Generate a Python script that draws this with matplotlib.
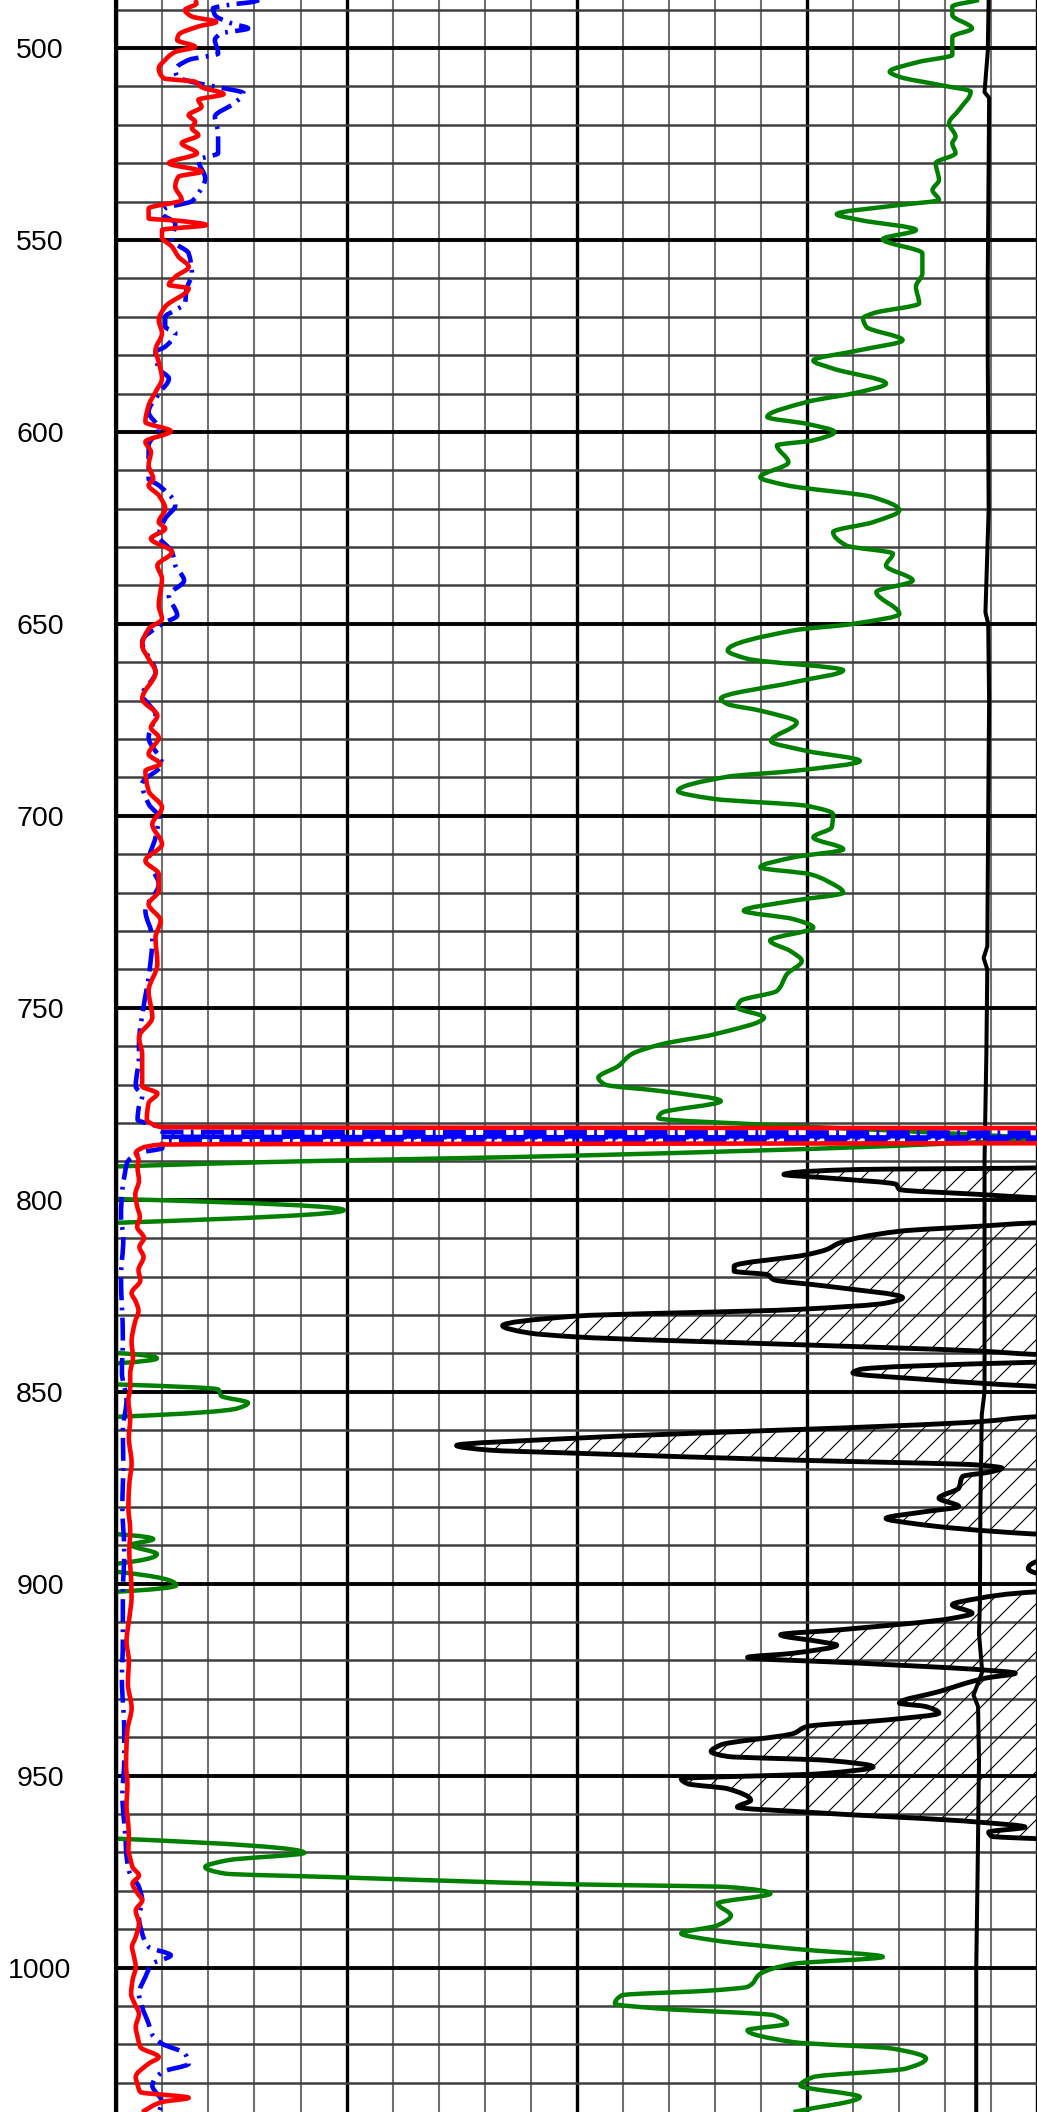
import numpy as np
import matplotlib.pyplot as plt
from matplotlib.path import Path
from matplotlib.patches import PathPatch

plt.rcParams['font.family'] = ['Liberation Sans', 'DejaVu Sans']

DPI = 72
PT = 100 / 72   # sizes below were tuned for 100 dpi
plt.rcParams['hatch.linewidth'] = 0.8 * PT

# depth window and labels
depth_top, depth_bottom = 487.5, 1037.6
depth_labels = [500, 550, 600, 650, 700, 750, 800, 850, 900, 950, 1000]

# curve values are in chart divisions: track 1 = 0..10, track 2 = 10..20
# red curve (track 1)
red_depth = [487.5, 488.4, 490.1, 491.8, 493.2, 494.4, 496.6, 497.9, 499.7, 501.0, 503.1, 505.3, 507.9, 508.8,
             510.2, 512.0, 513.5, 515.3, 517.5, 519.2, 520.9, 522.7, 524.8, 527.4, 530.0, 532.2, 533.5, 536.1,
             539.6, 541.8, 544.4, 545.0, 546.1, 547.4, 549.3, 551.8, 554.4, 557.0, 559.6, 561.7, 562.6, 567.4,
             570.9, 574.3, 578.7,
             581.8, 586.1, 589.6, 593.1, 597.4, 599.8, 602.6, 605.2, 608.7, 612.2, 613.9, 616.5, 620.0, 623.5,
             625.2, 627.8, 631.3, 634.8, 638.2, 645.2, 648.7, 651.3, 655.6, 659.1, 662.6, 669.5,
             673.9, 677.0, 679.6, 683.9, 686.5, 688.3, 693.5, 697.8, 702.2, 707.4, 711.7, 715.2, 719.5, 723.0,
             727.3, 731.7, 738.6, 745.6, 752.5, 757.7, 762.1,
             770.4, 772.3, 774.8, 779.1, 780.4, 781.1, 781.6, 784.9, 785.6, 786.5, 787.8, 789.4, 791.7, 795.0,
             798.7, 801.7, 804.5, 807.0, 810.0, 812.3, 814.9, 818.3, 821.0, 824.3, 826.5, 828.9, 832.0, 837.1,
             841.0, 845.2, 849.0, 852.2, 857.0, 862.0, 868.5, 874.0, 880.1, 886.0, 892.0, 897.0, 903.3, 909.0,
             915.0, 920.0, 926.0, 932.4, 938.0, 942.0, 947.5, 952.0, 958.0, 963.0, 966.0, 969.4, 971.5, 973.8,
             976.0, 978.1, 980.5, 982.5, 985.1, 988.5, 992.0, 994.6, 997.0, 999.8, 1003.3, 1006.8, 1009.5,
             1012.0, 1015.5, 1018.0, 1020.7, 1023.3, 1025.0, 1028.5, 1030.5, 1032.4, 1033.9, 1035.0, 1037.6]
red_value = [1.71, 1.74, 1.49, 1.64, 2.17, 1.78, 1.35, 1.32, 1.71, 1.28, 1.06, 0.92, 1.03, 1.71,
             1.85, 2.33, 1.78, 1.85, 1.57, 1.71, 1.64, 1.78, 1.42, 1.75, 1.14, 1.85, 1.35, 1.28,
             1.42, 0.70, 0.70, 1.35, 1.95, 0.99, 0.99, 1.21, 1.35, 1.57, 1.28, 1.14, 1.57, 1.06,
             0.92, 0.99, 0.85,
             0.92, 0.99, 0.85, 0.70, 0.63, 1.18, 0.63, 0.75, 0.70, 0.80, 0.70, 0.92, 1.06, 0.92,
             1.06, 0.75, 1.21, 0.89, 0.99, 0.92, 0.99, 0.70, 0.56, 0.70, 0.85, 0.56,
             0.89, 0.75, 0.92, 0.70, 0.95, 0.63, 0.70, 0.99, 0.78, 0.99, 0.63, 0.92, 0.92, 0.70,
             0.96, 0.85, 0.89, 0.70, 0.78, 0.49, 0.56,
             0.56, 0.89, 0.70, 0.66, 0.80, 1.00, 45.0, 45.0, 1.00, 0.56, 0.42, 0.48, 0.46, 0.49,
             0.41, 0.45, 0.51, 0.45, 0.60, 0.50, 0.59, 0.48, 0.52, 0.33, 0.42, 0.48, 0.40, 0.33,
             0.36, 0.30, 0.30, 0.26, 0.30, 0.27, 0.33, 0.28, 0.26, 0.30, 0.28, 0.31, 0.33, 0.28,
             0.22, 0.27, 0.25, 0.33, 0.24, 0.22, 0.21, 0.24, 0.22, 0.26, 0.27, 0.26, 0.30, 0.35,
             0.49, 0.35, 0.45, 0.56, 0.42, 0.49, 0.42, 0.34, 0.38, 0.42, 0.35, 0.32, 0.40,
             0.49, 0.42, 0.46, 0.52, 0.92, 0.70, 0.42, 0.46, 0.52, 1.57, 0.99, 0.56]

# blue dash-dot curve (track 1)
blue_depth = [487.5, 487.9, 488.8, 489.7, 491.4, 493.6, 494.9, 496.2, 497.9, 501.4, 503.1, 505.7, 507.5, 509.2,
              510.2, 511.8, 514.4, 517.9, 522.2, 525.7, 527.4, 529.2, 534.0, 537.9, 539.9, 541.8, 543.1, 545.7,
              550.0, 553.5, 558.7, 563.0, 566.5, 568.3, 570.0, 572.6, 574.3, 577.8,
              579.2, 583.5, 586.1, 590.1, 594.8, 599.2, 603.5, 612.2, 613.9, 619.1, 622.6, 627.0, 631.3, 634.8,
              638.7, 642.6, 647.8, 650.0, 654.7, 662.6, 668.6,
              670.9, 673.5, 679.6, 686.5, 691.7, 696.9, 700.4, 705.6, 711.7, 717.8, 724.7, 731.7, 742.1, 749.0,
              759.5,
              762.6, 770.4, 773.0, 775.6, 779.1, 780.8, 782.3, 782.7, 783.2, 783.6, 784.0, 784.3, 784.7, 786.5,
              787.8, 790.4, 792.8, 797.3, 804.0, 810.3, 820.0, 835.9, 845.0, 852.2, 860.0, 868.5, 880.0, 891.7,
              903.0, 915.0, 925.0, 938.2, 946.0, 955.0, 966.8, 969.4, 974.7, 979.0, 982.5, 986.8, 991.1, 994.6,
              996.8, 999.0, 1002.4, 1006.8, 1010.3, 1014.6, 1017.5, 1019.8, 1022.4, 1025.0, 1027.2, 1030.7,
              1035.0, 1037.6]
blue_value = [3.10, 3.00, 2.43, 2.10, 2.14, 2.50, 2.86, 2.28, 2.14, 2.21, 1.57, 1.28, 1.32, 1.78,
              2.21, 2.76, 2.56, 2.14, 2.21, 2.21, 2.21, 1.78, 1.93, 1.78, 1.64, 1.06, 0.99, 1.28,
              1.21, 1.57, 1.64, 1.52, 1.49, 1.28, 1.06, 1.06, 1.28, 1.06,
              0.85, 0.92, 1.14, 0.92, 0.70, 0.92, 0.70, 0.70, 0.92, 1.28, 1.06, 0.92, 1.21, 1.28,
              1.47, 1.14, 1.32, 0.99, 0.56, 0.85, 0.56,
              0.70, 0.85, 0.70, 0.99, 0.56, 0.70, 0.92, 0.85, 0.70, 0.92, 0.63, 0.78, 0.70, 0.60,
              0.49,
              0.49, 0.42, 0.56, 0.49, 0.46, 0.85, 1.00, 45.0, 45.0, 1.00, 45.0, 45.0, 1.00, 1.00,
              0.49, 0.23, 0.19, 0.13, 0.10, 0.15, 0.10, 0.14, 0.12, 0.22, 0.14, 0.15, 0.13, 0.17,
              0.14, 0.14, 0.12, 0.17, 0.17, 0.13, 0.20, 0.21, 0.27, 0.49, 0.56, 0.49, 0.56, 0.70,
              1.18, 0.78, 0.63, 0.49, 0.56, 0.70, 0.78, 0.99, 1.49, 1.57, 0.99, 0.78,
              0.99, 0.92]

# green curve (spans both tracks; below 0 runs off the left edge)
green_depth = [487.5, 489.2, 491.4, 494.9, 497.1, 501.8, 503.6, 506.2, 507.5, 509.6, 511.4, 516.2, 519.6, 523.1,
               524.8, 527.4, 530.0, 534.4, 537.0, 539.6, 540.9, 543.3, 544.8, 547.4, 549.8, 553.5, 558.7, 562.2,
               566.5, 569.1, 570.4, 572.6, 576.1, 578.7,
               581.4, 583.5, 587.4, 589.6, 592.2, 596.1, 597.9, 600.0, 602.2, 603.5, 607.9, 611.8, 613.9, 617.0,
               620.4, 623.5, 626.1, 629.6, 631.7, 634.8, 638.7, 641.7, 647.4, 650.0, 651.7, 656.9, 659.1, 662.1,
               665.2, 669.5,
               670.9, 672.6, 675.7, 680.5, 683.1, 685.7, 688.3, 689.8, 693.5, 695.6, 697.4, 699.6, 703.0, 705.6,
               708.7, 710.8, 713.4, 715.2, 716.9, 720.0, 722.1, 724.7, 726.9, 729.1, 732.5, 735.2, 737.8, 741.2,
               745.6, 748.2, 749.9, 752.5, 756.9, 759.5, 762.1,
               765.2, 768.2, 770.0, 771.7, 774.3, 777.4, 778.7, 780.8, 782.4, 784.1, 785.6, 788.5, 790.2, 791.3,
               792.0, 799.5, 799.8, 802.7, 806.0, 806.5, 839.5, 839.9, 841.3, 842.6, 843.1, 847.6, 848.1, 849.4,
               851.1, 852.9, 854.3, 856.5, 857.0,
               886.7, 887.1, 888.4, 889.9, 892.3, 894.8, 895.5, 896.3, 896.9, 900.4, 902.1, 902.6, 965.9, 966.4,
               970.1, 972.0, 973.8, 975.5, 976.4, 978.3, 979.0, 980.7, 983.3, 986.4, 989.0, 991.1, 992.9, 995.1,
               997.2, 999.0, 1001.6, 1005.0, 1005.9, 1007.2, 1009.4, 1010.7, 1012.4, 1014.6, 1016.3, 1019.4,
               1021.1, 1023.7, 1026.3, 1028.5, 1030.7, 1033.7, 1037.6]
green_value = [18.74, 18.16, 18.16, 18.59, 18.16, 18.16, 17.44, 16.80, 17.01, 17.87, 18.56, 18.30, 18.09, 18.23,
               18.16, 18.23, 17.80, 17.87, 17.73, 17.87, 17.01, 15.65, 16.15, 17.37, 16.65, 17.51, 17.51, 17.37,
               17.44, 16.44, 16.22, 16.29, 17.08, 16.15,
               15.14, 15.57, 16.72, 16.15, 15.00, 14.14, 15.00, 15.60, 15.14, 14.35, 14.60, 13.99, 14.56, 16.44,
               17.01, 16.44, 15.57, 15.86, 16.87, 16.72, 17.30, 16.51, 17.01, 16.00, 14.71, 13.28, 13.71, 15.79,
               14.71, 13.13,
               13.28, 13.99, 14.78, 14.22, 15.00, 16.15, 14.71, 13.28, 12.20, 12.99, 15.00, 15.57, 15.54, 15.14,
               15.79, 14.71, 13.99, 15.07, 15.43, 15.79, 14.71, 13.63, 14.71, 15.14, 14.20, 14.64, 14.89, 14.57,
               14.35, 13.56, 13.49, 14.07, 12.99, 11.84, 11.19,
               10.90, 10.47, 10.62, 11.84, 13.13, 11.84, 11.77, 14.71, 17.59, 19.81, 17.59, 9.97, 3.22, 0.06,
               -2.0, -2.0, 0.0, 4.94, 0.0, -2.0, -2.0, 0.0, 0.88, 0.0, -2.0, -2.0, 0.0, 2.21,
               2.28, 2.86, 2.64, 0.06, -2.0,
               -2.0, 0.0, 0.80, 0.32, 0.88, 0.0, -2.0, -2.0, 0.0, 1.30, 0.0, -2.0, -2.0, 0.0,
               4.08, 2.43, 1.93, 2.36, 4.65, 9.97, 13.28, 14.21, 13.06, 13.35, 13.06, 12.27, 12.99, 14.71,
               16.65, 14.71, 13.99, 13.71, 12.99, 10.98, 10.83, 11.84, 14.28, 14.57, 13.71, 14.71,
               16.87, 17.59, 17.15, 15.14, 14.86, 16.15, 14.71]

# black thin curve (track 2)
thin_depth = [487.5, 501.0, 511.5, 513.0, 530.0, 560.0, 580.0, 620.0, 647.0, 650.0, 670.0, 700.0, 734.0, 737.0,
              740.0, 762.0, 790.0, 820.0, 850.0, 856.0, 880.0, 905.0, 913.0, 923.0, 929.0, 932.0, 946.0, 975.0,
              1000.0, 1037.6]
thin_value = [18.95, 18.93, 18.86, 18.96, 18.95, 18.93, 18.93, 18.95, 18.88, 18.94, 18.96, 18.94, 18.92, 18.84,
              18.92, 18.90, 18.86, 18.86, 18.86, 18.80, 18.77, 18.76, 18.74, 18.81, 18.62, 18.72, 18.74, 18.71,
              18.68, 18.68]

# hatched black curve (track 2); values past 20 are off the right edge
hatch_depth = [790.0, 791.7, 792.1, 793.0, 793.4, 794.3, 796.0, 797.3, 798.6, 799.5, 800.5, 805.5, 806.0, 806.9,
               808.2, 811.2, 813.0, 814.3, 817.3, 818.6, 819.5, 820.8, 822.5, 825.5, 826.9, 828.6, 830.3, 832.8,
               834.7, 835.7, 837.7, 839.4, 840.3, 841.0, 841.9, 842.3, 844.2, 845.1, 846.8, 848.6, 849.5, 855.8,
               856.5, 857.8, 862.1, 864.0, 865.2, 866.0, 867.8, 869.1, 869.9, 870.8, 872.1, 875.1, 877.7, 879.9,
               881.2, 883.0, 884.3, 887.1, 888.0, 893.5, 894.2, 896.0, 897.3, 898.0, 901.5, 902.1, 903.8, 905.5,
               907.7, 909.0, 912.0, 913.3, 915.1, 916.0, 918.1, 919.2, 920.7, 922.5, 923.3, 924.6, 928.1, 931.1,
               932.0, 933.7, 935.5, 937.2, 939.0, 942.0, 943.7, 945.0, 946.0, 947.7, 949.5, 950.8, 952.1, 953.4,
               956.4, 958.2, 959.5, 962.1, 963.4, 964.7, 965.8, 966.4, 967.0]
hatch_value = [22.0, 20.0, 16.15, 14.64, 14.50, 15.43, 16.94, 17.01, 18.74, 20.0, 22.0, 22.0, 20.0, 18.74,
               17.01, 15.72, 15.42, 15.00, 13.42, 13.42, 14.14, 14.28, 15.43, 17.08, 16.72, 14.71, 9.97, 8.39,
               8.97, 9.97, 14.71, 18.74, 20.0, 22.0, 22.0, 20.0, 16.15, 16.00, 17.59, 20.0, 22.0, 22.0,
               20.0, 18.74, 9.97, 7.39, 8.10, 9.97, 14.71, 18.74, 19.24, 19.02, 18.38, 18.30, 17.87, 18.30,
               17.59, 16.72, 17.30, 20.0, 22.0, 22.0, 20.0, 19.81, 20.0, 22.0, 22.0, 20.0, 18.74, 18.16,
               18.59, 18.16, 15.72, 14.43, 15.29, 15.65, 14.71, 13.71, 16.15, 18.88, 19.53, 18.88, 17.87, 17.01,
               17.59, 17.87, 16.72, 15.00, 14.71, 13.13, 12.92, 13.28, 15.43, 16.44, 15.29, 12.27, 12.41, 13.28,
               13.78, 13.49, 15.00, 18.74, 19.74, 18.95, 19.02, 20.0, 22.0]


def log_path(values, depths, close_x=None):
    # smooth the trace between readings with monotone cubic segments (x as a function of depth)
    x = np.asarray(values, float)
    d = np.asarray(depths, float)
    h = np.diff(d)
    delta = np.diff(x) / h
    m = np.zeros_like(x)
    m[0], m[-1] = delta[0], delta[-1]
    for k in range(1, len(x) - 1):
        if delta[k - 1] * delta[k] > 0:
            w1 = 2 * h[k] + h[k - 1]
            w2 = h[k] + 2 * h[k - 1]
            m[k] = (w1 + w2) / (w1 / delta[k - 1] + w2 / delta[k])
    verts = [(x[0], d[0])]
    codes = [Path.MOVETO]
    for k in range(len(x) - 1):
        verts += [(x[k] + m[k] * h[k] / 3, d[k] + h[k] / 3),
                  (x[k + 1] - m[k + 1] * h[k] / 3, d[k + 1] - h[k] / 3),
                  (x[k + 1], d[k + 1])]
        codes += [Path.CURVE4] * 3
    if close_x is not None:
        verts += [(close_x, d[-1]), (close_x, d[0]), (x[0], d[0])]
        codes += [Path.LINETO, Path.LINETO, Path.CLOSEPOLY]
    return Path(verts, codes)


fig = plt.figure(figsize=(1037 / DPI, 2112 / DPI), dpi=DPI)
ax = fig.add_axes([116.4 / 1037, 0.0, 920.6 / 1037, 1.0])

# grid: every division, heavier every 5 divisions / 50 depth units
for x in range(0, 21):
    if x % 5 == 0:
        ax.axvline(x, color='black', lw=2.4 * PT, zorder=1)
    else:
        ax.axvline(x, color='#707070', lw=1.5 * PT, zorder=1)
for d in range(490, 1040, 10):
    if d % 50 == 0:
        ax.axhline(d, color='black', lw=2.8 * PT, zorder=1)
    else:
        ax.axhline(d, color='#404040', lw=1.8 * PT, zorder=1)

ax.add_patch(PathPatch(log_path(hatch_value, hatch_depth, close_x=25), facecolor='none',
                       edgecolor='black', hatch='/', linewidth=0, zorder=2))
ax.add_patch(PathPatch(log_path(hatch_value, hatch_depth), fill=False, edgecolor='black',
                       lw=3.5 * PT, joinstyle='round', zorder=4))
ax.plot(thin_value, thin_depth, color='black', lw=2.9 * PT, zorder=4)
ax.add_patch(PathPatch(log_path(green_value, green_depth), fill=False, edgecolor='#008000',
                       lw=3.2 * PT, joinstyle='round', zorder=5))
ax.add_patch(PathPatch(log_path(blue_value, blue_depth), fill=False, edgecolor='#0000ff',
                       lw=3.3 * PT, linestyle=(0, (5, 1.6, 0.6, 1.6)), zorder=6))
ax.add_patch(PathPatch(log_path(red_value, red_depth), fill=False, edgecolor='#ff0000',
                       lw=3.3 * PT, joinstyle='round', zorder=7))

ax.set_xlim(0, 20)
ax.set_ylim(depth_bottom, depth_top)
ax.set_xticks([])
ax.set_yticks(depth_labels)
ax.set_yticklabels([str(v) for v in depth_labels])
ax.tick_params(axis='y', length=0, pad=55 * PT, labelsize=20.5 * PT)
for t in ax.get_yticklabels():
    t.set_horizontalalignment('center')

for side in ['top', 'bottom', 'right']:
    ax.spines[side].set_visible(False)
ax.spines['left'].set_linewidth(3.0 * PT)
ax.spines['left'].set_zorder(8)

fig.savefig('out.png', dpi=DPI)
